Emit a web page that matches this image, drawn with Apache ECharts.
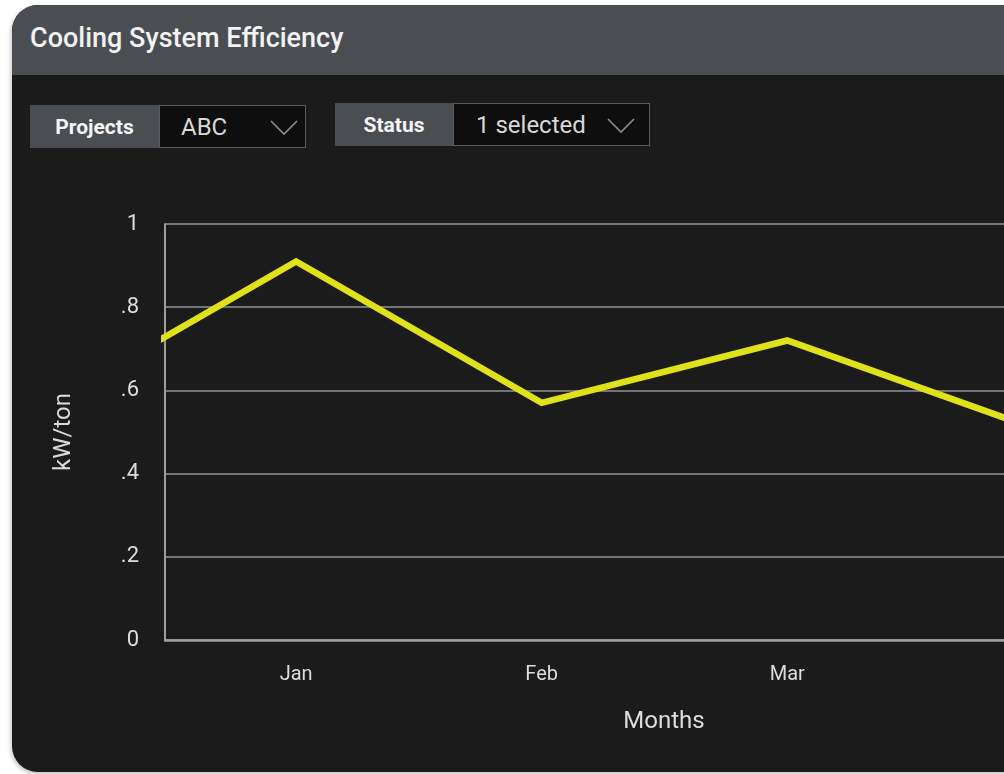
<!DOCTYPE html>
<html>
<head>
<meta charset="utf-8">
<script src="https://cdn.jsdelivr.net/npm/echarts@6/dist/echarts.min.js"></script>
<style>
  html, body { margin: 0; padding: 0; width: 1004px; height: 774px; overflow: hidden; background: #fff; font-family: Roboto, "Noto Sans", sans-serif; }
  #panel { position: absolute; left: 12px; top: 5px; width: 1400px; height: 767px; border-radius: 26px; background: #1b1b1b; overflow: hidden; box-shadow: -1px 2px 4px rgba(0,0,0,0.25); }
  #panel .header { height: 70px; background: #4a4d52; color: #f2f2f2; font-size: 27px; font-weight: 500; line-height: 66px; padding-left: 18px; }
  .ctl { position: absolute; height: 43px; display: flex; }
  .ctl .lbl { background: #4a4d52; color: #f4f4f4; font-weight: 700; font-size: 21px; line-height: 45px; text-align: center; }
  .ctl .sel { background: #0e0e0e; border: 1px solid #5a5c60; box-sizing: border-box; color: #d8d8d8; font-size: 24px; line-height: 42px; position: relative; }
  .ctl .sel svg { position: absolute; top: 14px; }
  #chart { position: absolute; left: 0; top: 0; width: 1400px; height: 774px; }
</style>
</head>
<body>
<div id="panel">
  <div class="header">Cooling System Efficiency</div>
</div>
<div class="ctl" style="left:30px; top:105px;">
  <div class="lbl" style="width:129px;">Projects</div>
  <div class="sel" style="width:147px; padding-left:21px;">ABC
    <svg width="28" height="16" style="left:110px;"><polyline points="1,1 14,14 27,1" fill="none" stroke="#8a8c90" stroke-width="1.6"/></svg>
  </div>
</div>
<div class="ctl" style="left:335px; top:103px;">
  <div class="lbl" style="width:118px;">Status</div>
  <div class="sel" style="width:197px; padding-left:22px;">1 selected
    <svg width="28" height="16" style="left:153px;"><polyline points="1,1 14,14 27,1" fill="none" stroke="#8a8c90" stroke-width="1.6"/></svg>
  </div>
</div>
<div id="chart"></div>
<script>
  // months indexed from 0 (Dec) so Jan = 1
  const months = ['Dec', 'Jan', 'Feb', 'Mar', 'Apr'];
  const efficiency = [0.57, 0.91, 0.57, 0.72, 0.51];
  const monthTicks = [1, 2, 3, 4];

  const chart = echarts.init(document.getElementById('chart'), null, {renderer: 'canvas'});

  const seriesData = [];
  for (let i = 0; i < months.length; i++) {
    seriesData.push([i, efficiency[i]]);
  }

  const axisColor = '#a29d96';
  const labelColor = '#dcdcdc';

  chart.setOption({
    animation: false,
    backgroundColor: 'transparent',
    grid: {
      left: 165,
      top: 224,
      width: 998,
      height: 416,
      containLabel: false
    },
    xAxis: {
      type: 'value',
      min: 0.466,
      max: 4.53,
      name: 'Months',
      nameLocation: 'middle',
      nameGap: 70,
      nameTextStyle: {color: labelColor, fontSize: 24, fontFamily: 'Roboto'},
      splitLine: {show: false},
      axisTick: {show: false},
      axisLine: {lineStyle: {color: axisColor, width: 2.5}},
      axisLabel: {
        customValues: monthTicks,
        color: labelColor,
        fontSize: 20,
        fontFamily: 'Roboto',
        margin: 25,
        formatter: function (v) { return months[Math.round(v)]; }
      }
    },
    yAxis: {
      type: 'value',
      min: 0,
      max: 1,
      interval: 0.2,
      name: 'kW/ton',
      nameLocation: 'middle',
      nameGap: 89,
      nameRotate: 90,
      nameTextStyle: {color: labelColor, fontSize: 24, fontFamily: 'Roboto'},
      axisTick: {show: false},
      axisLine: {show: true, lineStyle: {color: axisColor, width: 2}},
      splitLine: {lineStyle: {color: '#747474', width: 2}},
      axisLabel: {
        color: labelColor,
        fontSize: 22,
        fontFamily: 'Roboto',
        margin: 26,
        formatter: function (v) {
          if (v === 0) return '0';
          if (v === 1) return '1';
          return v.toFixed(1).replace(/^0/, '');
        }
      }
    },
    series: [
      {
        name: 'kW/ton',
        type: 'line',
        clip: true,
        showSymbol: false,
        lineStyle: {color: '#dfe21b', width: 6.5, join: 'miter'},
        data: seriesData
      }
    ]
  });
</script>
</body>
</html>
